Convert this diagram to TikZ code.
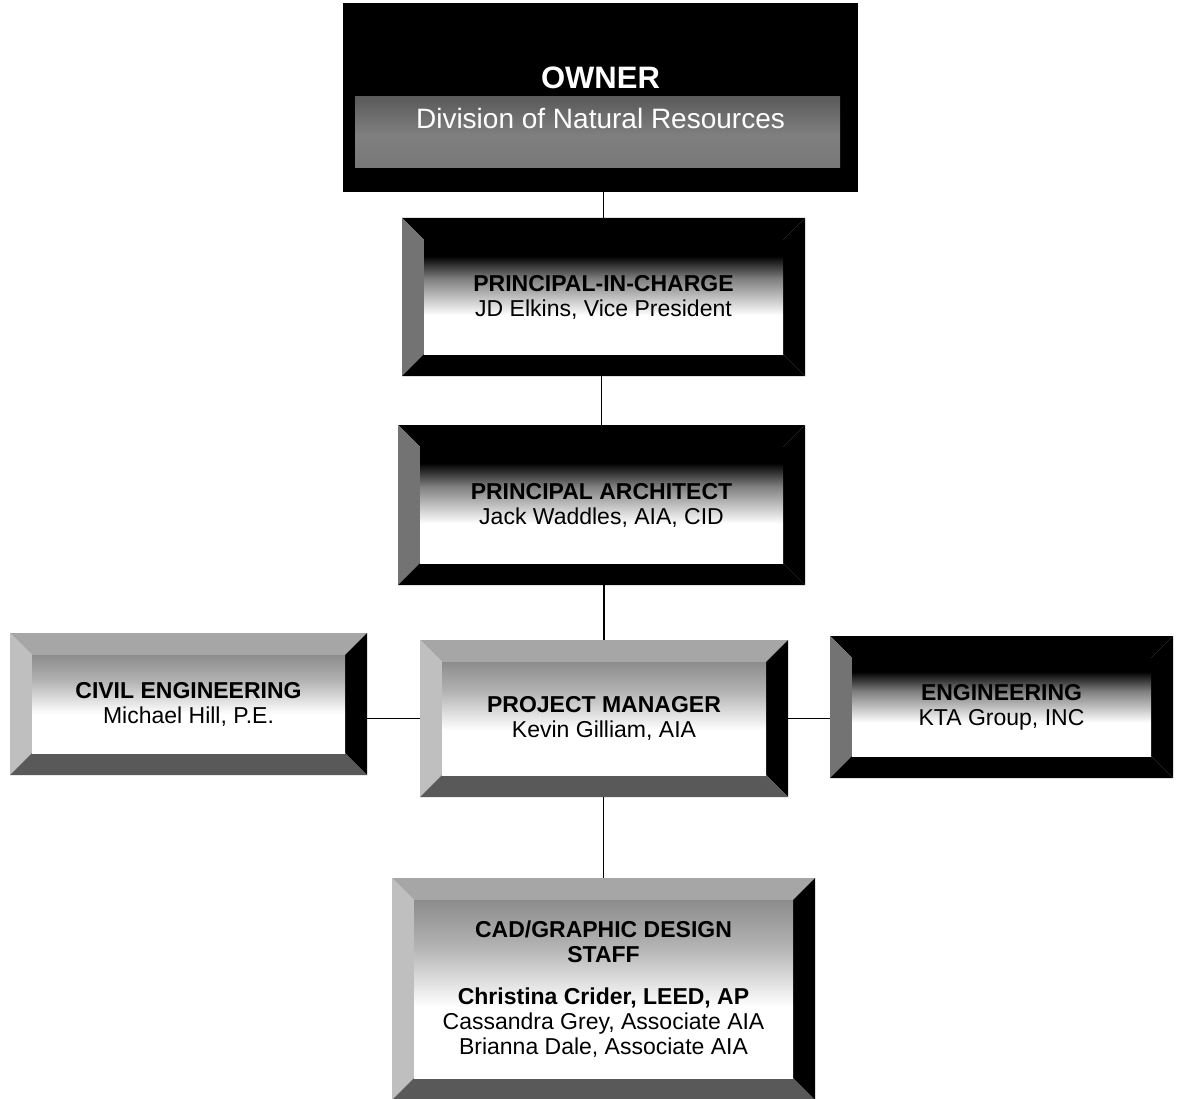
\documentclass[tikz,border=0pt]{standalone}
\usepackage{fontspec}
\setmainfont{Liberation Sans}
\usetikzlibrary{calc}

\pgfdeclareverticalshading{darkface}{100bp}{color(0bp)=(white); color(25bp)=(white); color(42bp)=(white); color(58bp)=(black!50); color(68bp)=(black); color(75bp)=(black); color(100bp)=(black)}
\pgfdeclareverticalshading{greyface}{100bp}{color(0bp)=(white); color(25bp)=(white); color(45bp)=(white); color(62bp)=(black!30); color(75bp)=(black!45); color(100bp)=(black!45)}
\pgfdeclareverticalshading{ownerband}{100bp}{color(0bp)=(black!55); color(25bp)=(black!55); color(40bp)=(black!50); color(75bp)=(black); color(100bp)=(black)}

\def\bev{22pt}

\tikzset{
    orgbox/.style={rectangle, inner sep=0pt, align=center, font=\fontsize{23}{25}\selectfont},
    bevel/.style n args={5}{orgbox, path picture={
        \coordinate (o1) at (path picture bounding box.north west);
        \coordinate (o2) at (path picture bounding box.north east);
        \coordinate (o3) at (path picture bounding box.south east);
        \coordinate (o4) at (path picture bounding box.south west);
        \coordinate (i1) at ($(o1)+(\bev,-\bev)$);
        \coordinate (i2) at ($(o2)+(-\bev,-\bev)$);
        \coordinate (i3) at ($(o3)+(-\bev,\bev)$);
        \coordinate (i4) at ($(o4)+(\bev,\bev)$);
        \fill[#1] (o1) -- (o2) -- (i2) -- (i1) -- cycle;
        \fill[#2] (o1) -- (i1) -- (i4) -- (o4) -- cycle;
        \fill[#3] (o2) -- (o3) -- (i3) -- (i2) -- cycle;
        \fill[#4] (o4) -- (i4) -- (i3) -- (o3) -- cycle;
        \shade[shading=#5] (i1) rectangle (i3);
    }},
    darkbox/.style={bevel={black}{black!55}{black}{black}{darkface}},
    greybox/.style={bevel={black!35}{black!25}{black}{black!65}{greyface}},
    ownerbox/.style={orgbox, fill=black, text=white, font=\fontsize{28}{40}\selectfont, path picture={
        \shade[shading=ownerband] ($(path picture bounding box.north west)+(12pt,-94pt)$)
            rectangle ($(path picture bounding box.south east)+(-18pt,24pt)$);
    }},
    link/.style={line width=1.8pt, black},
}

\begin{document}
\begin{tikzpicture}[x=1pt, y=-1pt]
        \useasboundingbox (0,0) rectangle (1180,1099);

        \node[ownerbox, minimum width=515pt, minimum height=189pt] (owner) at (600.5,97.5)
            {{\fontsize{31}{40}\selectfont\bfseries OWNER}\\ Division of Natural Resources};
        \node[darkbox, minimum width=403pt, minimum height=158pt] (pic) at (603.5,297)
            {\textbf{PRINCIPAL-IN-CHARGE}\\ JD Elkins, Vice President};
        \node[darkbox, minimum width=407pt, minimum height=160pt] (pa) at (601.5,505)
            {\textbf{PRINCIPAL ARCHITECT}\\ Jack Waddles, AIA, CID};
        \node[greybox, minimum width=357pt, minimum height=142pt] (civil) at (188.5,704)
            {\textbf{CIVIL ENGINEERING}\\ Michael Hill, P.E.};
        \node[greybox, minimum width=368pt, minimum height=157pt] (pm) at (604,718.5)
            {\textbf{PROJECT MANAGER}\\ Kevin Gilliam, AIA};
        \node[darkbox, minimum width=343pt, minimum height=142pt] (eng) at (1001.5,707)
            {\textbf{ENGINEERING}\\ KTA Group, INC};
        \node[greybox, minimum width=423pt, minimum height=222pt] (cad) at (603.5,989)
            {\textbf{CAD/GRAPHIC DESIGN}\\ \textbf{STAFF}\\[17pt]
             \textbf{Christina Crider, LEED, AP}\\ Cassandra Grey, Associate AIA\\
             Brianna Dale, Associate AIA};

        \draw[link] (pic.north) -- (pic.north |- owner.south);
        \draw[link] (pa.north) -- (pa.north |- pic.south);
        \draw[link] (pm.north) -- (pm.north |- pa.south);
        \draw[link] (cad.north) -- (cad.north |- pm.south);
        \draw[link] (pm.west) -- (pm.west -| civil.east);
        \draw[link] (pm.east) -- (pm.east -| eng.west);

\end{tikzpicture}
\end{document}
